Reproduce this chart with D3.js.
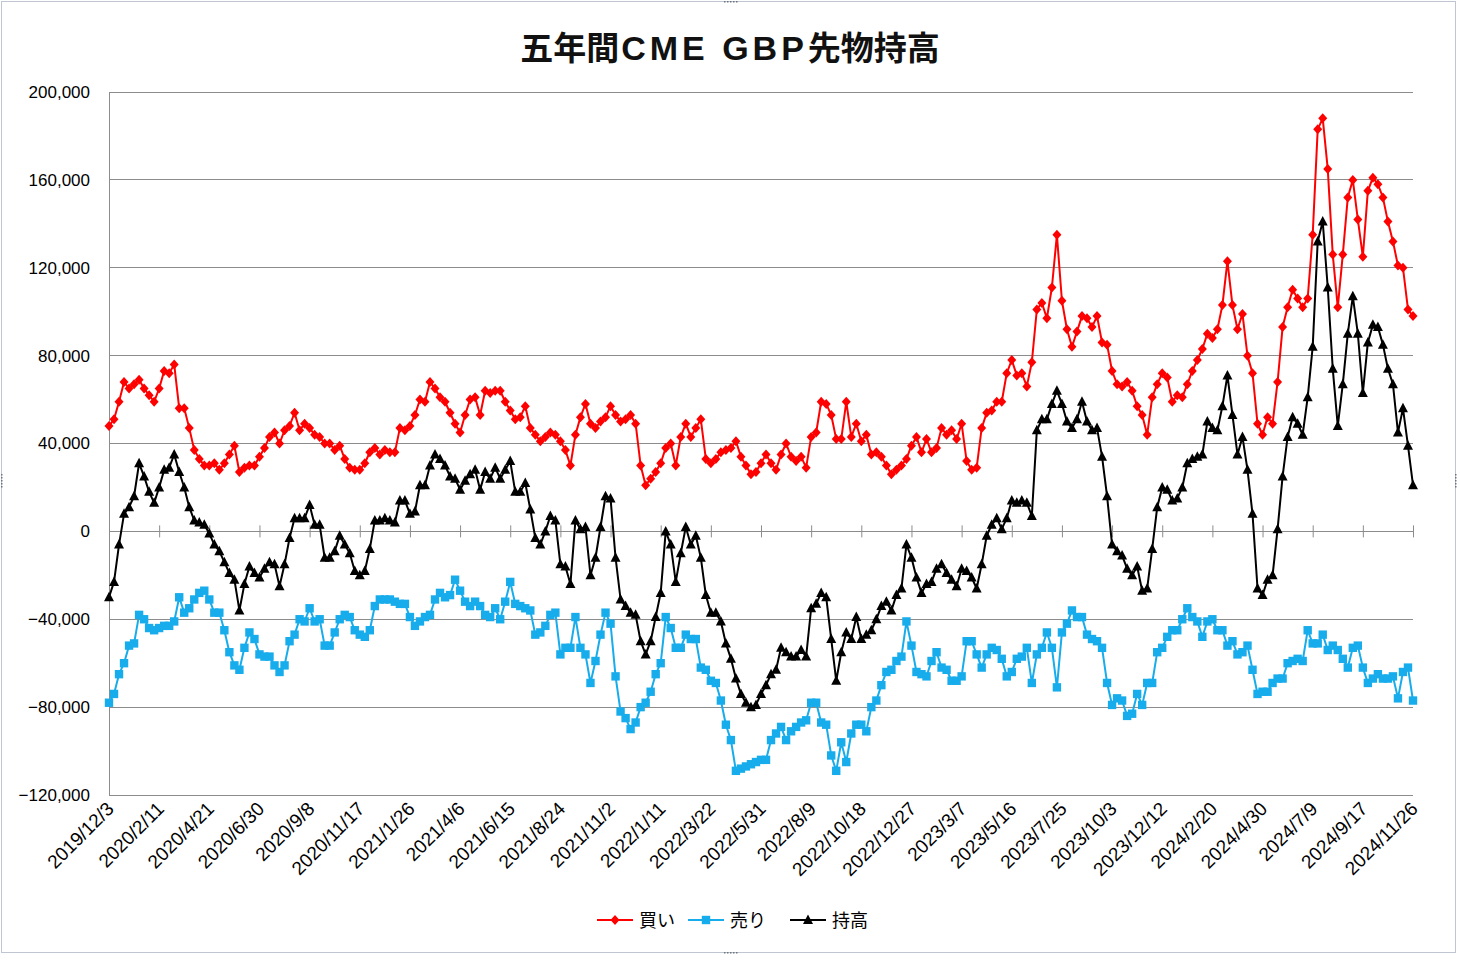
<!DOCTYPE html>
<html><head><meta charset="utf-8">
<script src="https://cdn.jsdelivr.net/npm/d3@7"></script>
<style>html,body{margin:0;padding:0;background:#fff;} svg{display:block;}</style>
</head><body>
<svg id="chart" width="1460" height="960"></svg>
<script>
// ---- data (thousands of contracts), weekly from 2019/12/3 to 2024/11/26 ----
const tickLabels = ["2019/12/3","2020/2/11","2020/4/21","2020/6/30","2020/9/8","2020/11/17",
  "2021/1/26","2021/4/6","2021/6/15","2021/8/24","2021/11/2","2022/1/11","2022/3/22",
  "2022/5/31","2022/8/9","2022/10/18","2022/12/27","2023/3/7","2023/5/16","2023/7/25",
  "2023/10/3","2023/12/12","2024/2/20","2024/4/30","2024/7/9","2024/9/17","2024/11/26"];

const longPos = [
48,51,59,68,65,67,69,65,62,59,
65,73,72,76,56,56,47,37,33,30,
30,31,28,31,35,39,27,29,30,30,
34,38,43,45,40,46,48,54,46,49,
47,44,43,40,40,37,39,33,29,28,
28,31,36,38,35,37,36,36,47,46,
48,53,60,59,68,65,61,59,54,49,
45,53,60,61,53,64,63,64,64,59,
55,51,52,57,47,44,41,43,45,44,
41,37,30,44,52,58,49,47,50,52,
57,53,50,51,53,49,30,21,24,27,
31,38,40,30,43,49,43,47,51,33,
31,33,36,37,38,41,34,30,26,27,
31,35,31,28,35,40,34,32,34,29,
43,45,59,58,53,42,42,59,43,49,
41,44,35,36,34,30,26,28,30,33,
39,43,36,42,36,38,47,44,46,42,
49,32,28,29,47,54,55,59,59,72,
78,71,72,66,77,101,104,97,111,135,
105,92,84,91,98,97,93,98,86,85,
73,67,66,68,64,57,53,44,61,67,
72,70,59,62,61,67,73,78,83,90,
88,92,103,123,103,92,99,80,72,49,
44,52,49,68,93,102,110,106,102,106,
135,183,188,165,126,102,126,152,160,142,
125,155,161,158,152,141,132,121,120,101,
98];

const shortPos = [
-78,-74,-65,-60,-52,-51,-38,-40,-44,-45,
-44,-43,-43,-41,-30,-37,-35,-31,-28,-27,
-31,-37,-37,-45,-55,-61,-63,-53,-46,-49,
-56,-57,-57,-61,-64,-61,-50,-47,-40,-41,
-35,-41,-40,-52,-52,-46,-40,-38,-39,-45,
-47,-48,-45,-34,-31,-31,-31,-32,-33,-33,
-39,-43,-41,-39,-38,-31,-28,-30,-29,-22,
-27,-32,-34,-32,-34,-38,-39,-35,-40,-32,
-23,-33,-34,-35,-36,-47,-46,-43,-38,-37,
-56,-53,-53,-39,-53,-56,-69,-59,-47,-37,
-42,-66,-82,-85,-90,-87,-80,-78,-73,-65,
-60,-39,-44,-53,-53,-47,-49,-49,-62,-63,
-68,-69,-77,-88,-95,-109,-108,-107,-106,-105,
-104,-104,-95,-92,-89,-95,-91,-89,-87,-86,
-78,-78,-87,-88,-102,-109,-96,-105,-92,-88,
-88,-91,-80,-77,-70,-64,-63,-59,-57,-41,
-52,-64,-65,-66,-59,-55,-62,-63,-68,-68,
-66,-50,-50,-56,-62,-56,-53,-54,-58,-66,
-64,-58,-57,-53,-69,-56,-53,-46,-53,-71,
-46,-42,-36,-39,-39,-47,-49,-50,-53,-69,
-79,-76,-77,-84,-83,-74,-79,-69,-69,-55,
-53,-48,-45,-45,-40,-35,-39,-41,-48,-41,
-40,-45,-45,-52,-50,-56,-55,-52,-63,-74,
-73,-73,-69,-67,-67,-60,-59,-58,-59,-45,
-51,-51,-47,-54,-52,-54,-58,-62,-53,-52,
-62,-69,-67,-65,-67,-67,-66,-76,-64,-62,
-77];

const netPos = [
-30,-23,-6,8,11,16,31,25,18,13,
20,28,29,35,27,20,11,5,4,3,
-1,-6,-9,-14,-19,-22,-36,-24,-16,-19,
-21,-17,-14,-15,-25,-15,-3,6,6,6,
12,3,3,-12,-12,-9,-2,-6,-10,-18,
-20,-18,-8,5,5,6,5,4,14,14,
8,9,21,21,30,35,33,30,25,24,
19,23,26,28,19,27,24,29,24,28,
32,18,18,22,10,-3,-6,0,7,5,
-15,-16,-24,5,1,2,-20,-12,2,16,
15,-12,-31,-34,-37,-38,-50,-56,-50,-39,
-28,0,-6,-23,-10,2,-6,-2,-12,-29,
-37,-37,-41,-51,-58,-67,-74,-78,-80,-79,
-74,-70,-65,-63,-53,-55,-57,-57,-54,-57,
-35,-33,-28,-30,-49,-68,-55,-46,-49,-39,
-49,-47,-45,-40,-34,-32,-36,-29,-26,-6,
-12,-21,-28,-24,-23,-17,-15,-19,-22,-25,
-17,-18,-21,-26,-15,-2,3,6,1,6,
14,13,14,13,7,46,51,51,58,64,
58,50,47,51,59,50,46,47,34,16,
-6,-9,-11,-17,-20,-16,-27,-26,-8,11,
20,19,14,15,20,31,33,34,35,50,
47,46,57,71,53,35,43,28,8,-26,
-29,-22,-20,1,25,43,52,49,44,61,
84,132,141,111,74,48,67,90,107,90,
63,86,94,93,85,74,67,45,56,39,
21];

const seriesNames = ["買い", "売り", "持高"];
const yTicks = [-120000, -80000, -40000, 0, 40000, 80000, 120000, 160000, 200000];
const UNIT = 1000;
const titleParts = [["五年間","cjk"],["CME GBP","latin"],["先物持高","cjk"]];

// ---- drawing ----
const svg = d3.select("#chart");
const n = longPos.length;
const x = d3.scalePoint().domain(d3.range(n)).range([109, 1413]);
const y = d3.scaleLinear().domain([-120000, 200000]).range([795, 92]);
const font = "'Liberation Sans', Arial, sans-serif";
const cjk = "'Noto Sans CJK JP', sans-serif";

svg.append("rect").attr("x",0).attr("y",0).attr("width",1460).attr("height",960).attr("fill","#fff");
// outer chart frame
svg.append("rect").attr("x",1.5).attr("y",1.5).attr("width",1454).attr("height",951)
  .attr("fill","none").attr("stroke","#bfc6d1").attr("stroke-width",1);
// selection handles
const handles = [[730,2,"h"],[730,953,"h"],[2,480,"v"],[1456,480,"v"]];
handles.forEach(([hx,hy,o])=>{
  for(let k=-2;k<=2;k++){
    svg.append("rect").attr("x", o==="h"? hx+k*3 : hx-1).attr("y", o==="h"? hy-1 : hy+k*3)
      .attr("width",1.5).attr("height",1.5).attr("fill","#6b7480");
  }
});

// title
const title = svg.append("text").attr("x",730).attr("y",60).attr("text-anchor","middle")
  .attr("font-weight",700).attr("fill","#111");
titleParts.forEach(([t,kind])=>{
  const ts = title.append("tspan").text(t);
  if(kind==="cjk") ts.attr("font-family",cjk).attr("font-size",33);
  else ts.attr("font-family","'Liberation Sans', Arial, sans-serif").attr("font-size",34)
         .attr("letter-spacing",4).attr("dx",2);
});

// gridlines
svg.append("g").selectAll("line").data(yTicks).join("line")
  .attr("x1",109).attr("x2",1413).attr("y1",d=>y(d)).attr("y2",d=>y(d))
  .attr("stroke","#8c8c8c").attr("stroke-width",1).attr("shape-rendering","crispEdges");

// y axis
const yAxis = d3.axisLeft(y).tickValues(yTicks).tickFormat(d3.format(",")).tickSize(0).tickPadding(19);
const gy = svg.append("g").attr("transform","translate(109,0)").call(yAxis);
gy.select(".domain").attr("stroke","#8c8c8c").attr("shape-rendering","crispEdges");
gy.selectAll("text").attr("font-family",font).attr("font-size",17).attr("fill","#000");

// category axis at zero
const tickIdx = d3.range(0, n, 10);
const gx = svg.append("g").attr("transform",`translate(0,${y(0)})`)
  .call(d3.axisBottom(x).tickValues(tickIdx).tickSize(6).tickFormat(""));
gx.select(".domain").attr("stroke","#8c8c8c").attr("shape-rendering","crispEdges");
gx.selectAll(".tick line").attr("y1",-6).attr("y2",6).attr("stroke","#8c8c8c");

// rotated category labels at the bottom
svg.append("g").selectAll("text").data(tickIdx).join("text")
  .attr("transform",(d)=>`translate(${x(d)+6},${810}) rotate(-45)`)
  .attr("text-anchor","end").attr("font-family",font).attr("font-size",19).attr("fill","#000")
  .text((d,i)=>tickLabels[i]);

// series
const series = [
  {name:seriesNames[0], vals:longPos,  color:"#ff0000", shape:"diamond"},
  {name:seriesNames[1], vals:shortPos, color:"#17aceb", shape:"square"},
  {name:seriesNames[2], vals:netPos,   color:"#000000", shape:"triangle"}
];
function markerPath(shape){
  if(shape==="diamond") return "M0,-5L4.5,0L0,5L-4.5,0Z";
  if(shape==="square") return "M-4.2,-4.2L4.2,-4.2L4.2,4.2L-4.2,4.2Z";
  return "M0,-5.5L5,4L-5,4Z";
}
const line = d3.line().x((d,i)=>x(i)).y(d=>y(d*UNIT));
series.forEach(s=>{
  const g = svg.append("g");
  g.append("path").datum(s.vals).attr("d",line).attr("fill","none")
    .attr("stroke",s.color).attr("stroke-width",2).attr("stroke-linejoin","round");
  g.selectAll("path.m").data(s.vals).join("path").attr("class","m")
    .attr("transform",(d,i)=>`translate(${x(i)},${y(d*UNIT)})`)
    .attr("d",markerPath(s.shape)).attr("fill",s.color);
});

// legend
const legendItems = [{x:597},{x:688},{x:790}];
legendItems.forEach((L,k)=>{
  const s = series[k];
  const g = svg.append("g").attr("transform",`translate(${L.x},920)`);
  g.append("line").attr("x1",0).attr("x2",36).attr("y1",0).attr("y2",0)
    .attr("stroke",s.color).attr("stroke-width",2);
  g.append("path").attr("transform","translate(18,0)").attr("d",markerPath(s.shape)).attr("fill",s.color);
  g.append("text").attr("x",42).attr("y",7).attr("font-family",cjk).attr("font-size",18)
    .attr("fill","#000").text(s.name);
});
</script>
</body></html>
